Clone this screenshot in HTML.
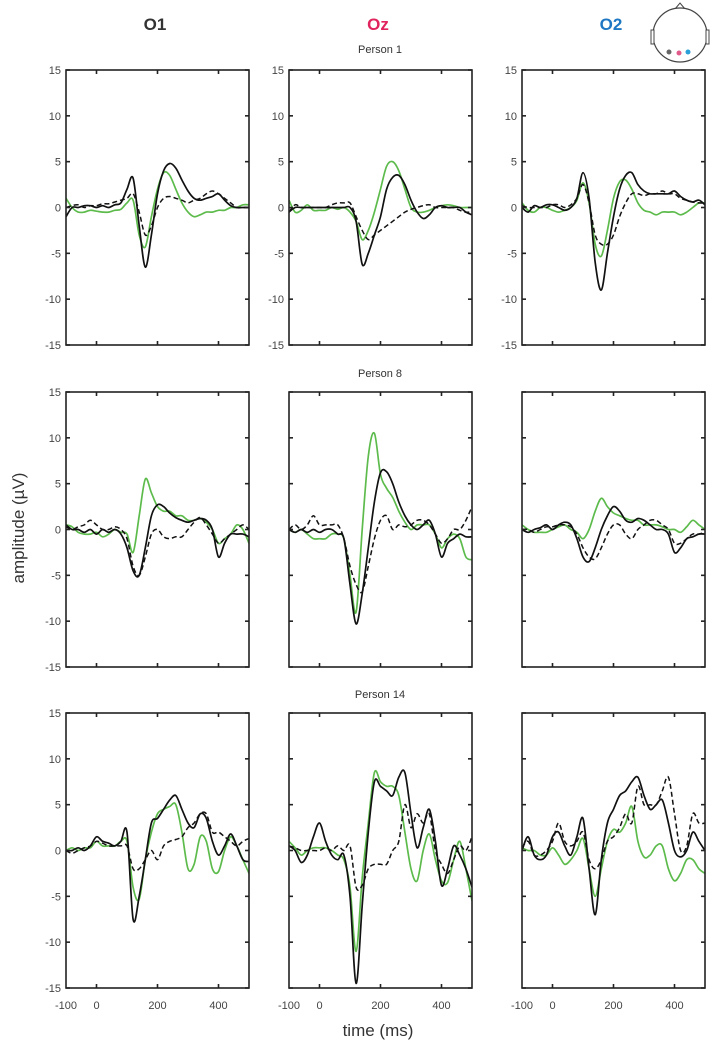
<!DOCTYPE html>
<html><head><meta charset="utf-8"><style>
body{margin:0;background:#fff;}
svg{display:block;font-family:"Liberation Sans",sans-serif;}
</style></head><body>
<svg id="chart" width="712" height="1050" viewBox="0 0 712 1050">
<text x="155" y="30" text-anchor="middle" font-size="17" font-weight="bold" fill="#333">O1</text>
<text x="378" y="30" text-anchor="middle" font-size="17" font-weight="bold" fill="#e0245e">Oz</text>
<text x="611" y="30" text-anchor="middle" font-size="17" font-weight="bold" fill="#1f77c4">O2</text>
<g>
<path d="M675 9 L680 3 L685 9" fill="none" stroke="#444" stroke-width="1"/>
<ellipse cx="680" cy="35" rx="27" ry="27" fill="#fff" stroke="#444" stroke-width="1.2"/>
<rect x="651" y="30" width="3" height="14" fill="#fff" stroke="#444" stroke-width="1"/>
<rect x="706" y="30" width="3" height="14" fill="#fff" stroke="#444" stroke-width="1"/>
<circle cx="669" cy="52" r="2.5" fill="#666"/>
<circle cx="679" cy="53" r="2.5" fill="#e05a8a"/>
<circle cx="688" cy="52" r="2.5" fill="#2a9fd8"/>
</g>
<text x="380" y="53" text-anchor="middle" font-size="11" fill="#333">Person 1</text>
<text x="380" y="377" text-anchor="middle" font-size="11" fill="#333">Person 8</text>
<text x="380" y="698" text-anchor="middle" font-size="11" fill="#333">Person 14</text>
<text x="0" y="0" transform="translate(24,528) rotate(-90)" text-anchor="middle" font-size="17" fill="#333">amplitude (µV)</text>
<text x="378" y="1036" text-anchor="middle" font-size="17" fill="#333">time (ms)</text>
<g id="panels"></g>
</svg>
<script>
const times=[-100,-80,-60,-40,-20,0,20,40,60,80,100,120,140,160,180,200,220,240,260,280,300,320,340,360,380,400,420,440,460,480,500];
const yTicks=[15,10,5,0,-5,-10,-15];
const xTicks=[-100,0,200,400];
const xTickMarks=[0,200,400];
// Person 1
const p1o1Black=[-1,0,0,0.2,0.2,0,0.2,0,0.3,0.5,2,3.2,-2,-6.5,-3,1.5,4,4.8,4.3,3,1.8,1,0.8,1,1.2,1.5,0.8,0.2,0,0,0];
const p1o1Green=[1,0,-0.5,-0.5,-0.3,-0.4,-0.5,-0.5,-0.3,-0.2,0.5,0.8,-3,-4.3,-1,2,3.8,3.5,2,0.5,-0.5,-1,-0.8,-0.5,-0.5,-0.3,-0.3,0,0,0.3,0.3];
const p1o1Dash=[0,0.2,0.3,0,0.2,0.2,0.4,0.4,0.6,0.8,1,1.5,-0.5,-3,-2,0,1,1.2,1,0.8,0.5,0.8,1,1.5,1.8,1.5,1,0.5,0,0,0];
const p1ozBlack=[-0.5,0,0,0,0,0,0,0,0,0,0,-1.5,-6.2,-5,-3,-1,2,3.3,3.5,2.5,0.8,-0.5,-1.2,-0.8,0,0.2,0,0,0,-0.5,-0.8];
const p1ozGreen=[0.8,-0.5,-0.3,0.3,-0.3,-0.3,-0.3,0,-0.2,0,-0.5,-1.5,-3.5,-2.5,-0.5,2,4.5,5,4,2,0,-0.5,-0.5,-0.3,0,0.2,0.3,0.2,0,0,0];
const p1ozDash=[-0.5,0.3,0,0,0,0,0,0.3,0.5,0.5,0.5,-1,-2.5,-3.5,-3,-2.5,-2,-1.5,-1,-0.5,-0.2,0,0.2,0.3,0,0,0,0,-0.3,-0.5,-0.5];
const p1o2Black=[0,-0.5,0.2,0,0.3,0.3,0,-0.3,0,1,3.8,1,-6,-9,-5,-1,2,3.5,3.8,2.5,1.8,1.5,1.5,1.5,1.5,1.8,1.2,0.8,0.6,0.8,0.3];
const p1o2Green=[0.5,-0.3,-0.5,0,0,-0.3,-0.5,-0.3,0,0.8,2.7,0.5,-4,-5.3,-2.5,1,2.8,3,2,0.5,-0.3,-0.5,-0.8,-0.5,-0.5,-0.5,-0.8,-0.5,0,0.5,0.5];
const p1o2Dash=[0.2,0,0,0,0,0.3,0.3,0,0.3,1,2.5,0.5,-3,-4,-4,-3,-1,0.5,1.5,1.5,1.3,1.5,1.5,1.8,1.5,1.5,1,0.8,0.6,0.5,0.5];
// Person 8
const p8o1Black=[0.5,0,0,-0.3,0,-0.5,0,-0.3,0,-0.5,-2,-4.5,-5,-2,1.5,2.7,2.5,1.8,1.3,1,0.8,1,1.2,1,0,-3,-1.5,-0.5,-0.5,-0.5,-0.8];
const p8o1Green=[0.5,0.3,-0.3,-0.5,-0.5,-0.3,-0.8,-0.5,0,-0.3,-0.5,-2.5,1.5,5.5,4,2.5,2,2,1.5,1.5,1,1,1.2,0.8,0,-1.5,-1,-0.5,0.5,0,-1.5];
const p8o1Dash=[0.3,0,0.3,0.5,1,0.5,0,0,0.3,0,-1,-4,-5,-3,-0.5,0,-0.8,-1,-0.8,-0.8,0,0.8,1.3,0.5,-0.5,-1.5,-1,-0.5,0,0.5,0];
const p8ozBlack=[0,-0.3,0,-0.3,0,-0.3,0,0,-0.5,-1,-6,-10.3,-7,-2,3,6.2,6.3,5,3,1.5,0.5,0,0.5,1,-0.5,-3,-1.5,-1,-0.5,-0.8,-0.8];
const p8ozGreen=[0,-0.3,0,-0.5,-1,-1,-1,-0.5,-0.5,-1,-5,-9,0,8,10.5,6,4.5,3.5,2,0.8,0,0.5,0.5,0.5,-0.5,-2,-1,-0.5,-1,-3,-3.3];
const p8ozDash=[0,0.5,0,0.5,1.5,0.5,0.5,0.5,0.5,-1,-4,-6,-6.8,-4,-1,1,1.5,0,0.5,0.3,0.5,1,1,0.5,-0.5,-1.5,-1,0,0,1,2.5];
const p8o2Black=[0,-0.3,0,0.2,0.5,0,0.5,0.8,0.5,-1,-3,-3.5,-2,0,1.5,2.5,2,1,0.8,1.2,1,0.5,0,0,-0.5,-2.5,-2,-1,-0.8,-0.5,-0.5];
const p8o2Green=[0.5,0,-0.3,-0.3,-0.3,0,0.3,0.5,0,-0.3,-1,0,2,3.4,2.5,1.8,1.5,1.2,1,1,0.5,0.5,0.5,0.3,0,0,-0.3,0.3,1,0.5,0];
const p8o2Dash=[0,0,-0.3,0,0.3,0.3,0.5,0.5,0.3,-0.5,-2,-3,-3.2,-2,-0.5,0.5,0.5,-0.5,-1,0,0.5,1,1,0.5,0,-1.5,-1.5,-1,-0.5,-0.5,-0.3];
// Person 14
const p14o1Black=[0,0,0.3,0,0.5,1.5,1,0.8,0.5,1,2,-7.5,-5,-1,3,3.5,4.5,5.5,6,4.5,3,2.5,4,3.5,1,-0.5,0.5,1.8,0.5,-1,-1.2];
const p14o1Green=[0,0.3,0,0.3,0.3,1,0.5,0.5,0.5,1,1,-4,-5.3,-1,2,4,4.5,4.8,5,2,-2,-1.5,1.5,1,-2,-2.3,0,1.5,0.5,-1,-2.5];
const p14o1Dash=[0,-0.3,0,0.3,0.5,1,0.8,0.5,0.5,0.5,0.5,-2,-2,-1,0,-1,0.5,1,1.2,1.5,2.5,3,4,4,2,2,1.5,1,0.5,1,1.3];
const p14ozBlack=[0.5,0,-1.3,-0.5,1.5,3,1,-0.5,-1,-0.5,-5,-14.5,-6,2,7.5,7,6.5,6,8,8.5,4,0.3,2.5,4.5,1,-3.8,-2,0.5,-0.5,-2,-4];
const p14ozGreen=[1,0.3,-0.5,0,0.3,0.3,0.3,0,-0.5,-1,-4,-11,-3,3,8.5,7.5,7,7,6,2,-2,-3.3,0,1.8,-1,-3.3,-3.5,-1,1,-2,-5.5];
const p14ozDash=[0.5,0.3,0,0,0,0,0.3,0,0.5,0,0.5,-4,-3.8,-2,-1.5,-1.5,-1.5,0,1,5,2.5,4,3,4,0,-1.5,-2.5,-1,0.5,0,1.5];
const p14o2Black=[0,1.5,-0.5,-1,-0.5,1.5,2,0.5,-0.5,1.5,3.5,-2,-7,-1,3,4.5,6,6.5,7.5,8,6,4.5,5,5.5,3,0,-0.7,0,2,1,0];
const p14o2Green=[0.3,0,0,-0.5,-0.5,0.3,-0.5,-1.5,-1,0,1.3,-2,-5,-2,1,2.3,2,3,4.8,1,-0.7,-0.5,0.5,0.5,-2,-3.3,-2.5,-1,-1,-2,-2.5];
const p14o2Dash=[0.3,1,-0.5,-0.5,0,1,3,1,0.5,1,2,-1,-2,-1,1,1.5,2.5,4,3,7,5,5,5,6.5,8,4,0,0.5,4,3,3];

const colLeft=[66,289,522], colWidth=183;
const rowTop=[70,392,713], rowHeight=275;
const panels=[
 [[p1o1Green,p1o1Black,p1o1Dash],[p1ozGreen,p1ozBlack,p1ozDash],[p1o2Green,p1o2Black,p1o2Dash]],
 [[p8o1Green,p8o1Black,p8o1Dash],[p8ozGreen,p8ozBlack,p8ozDash],[p8o2Green,p8o2Black,p8o2Dash]],
 [[p14o1Green,p14o1Black,p14o1Dash],[p14ozGreen,p14ozBlack,p14ozDash],[p14o2Green,p14o2Black,p14o2Dash]]
];
const NS="http://www.w3.org/2000/svg";
const root=document.getElementById('panels');
function mk(tag,attrs,parent){const e=document.createElementNS(NS,tag);for(const k in attrs)e.setAttribute(k,attrs[k]);parent.appendChild(e);return e;}
function smooth(pts){let d='M'+pts[0][0].toFixed(1)+' '+pts[0][1].toFixed(1);for(let i=0;i<pts.length-1;i++){const p0=pts[i-1]||pts[i],p1=pts[i],p2=pts[i+1],p3=pts[i+2]||p2;const c1x=p1[0]+(p2[0]-p0[0])/6,c1y=p1[1]+(p2[1]-p0[1])/6,c2x=p2[0]-(p3[0]-p1[0])/6,c2y=p2[1]-(p3[1]-p1[1])/6;d+=' C'+c1x.toFixed(1)+' '+c1y.toFixed(1)+' '+c2x.toFixed(1)+' '+c2y.toFixed(1)+' '+p2[0].toFixed(1)+' '+p2[1].toFixed(1);}return d;}
const styles=[{c:'#5dbb4c',w:1.7,dash:null,n:'green'},{c:'#111',w:1.7,dash:null,n:'black-solid'},{c:'#111',w:1.5,dash:'5,3',n:'black-dashed'}];
for(let r=0;r<3;r++)for(let c=0;c<3;c++){
 const L=colLeft[c],T=rowTop[r],W=colWidth,H=rowHeight;
 const xs=t=>L+(t+100)/600*W, ys=v=>T+(15-v)/30*H;
 const g=mk('g',{},root);
 
 
 const clip=mk('clipPath',{id:'cl'+r+c},g);mk('rect',{x:L,y:T,width:W,height:H},clip);
 const lg=mk('g',{'clip-path':'url(#cl'+r+c+')'},g);
 panels[r][c].forEach((arr,si)=>{
  const s=styles[si];
  const p=mk('path',{d:smooth(arr.map((v,i)=>[xs(times[i]),ys(v)])),fill:'none',stroke:s.c,'stroke-width':s.w,'stroke-linejoin':'round'},lg);
  if(s.dash)p.setAttribute('stroke-dasharray',s.dash);
  
  
 });
 const box=mk('rect',{x:L,y:T,width:W,height:H,fill:'none',stroke:'#222','stroke-width':1.6},g);
 
 
 yTicks.forEach(v=>{
  mk('line',{x1:L,x2:L+4,y1:ys(v),y2:ys(v),stroke:'#222','stroke-width':1.6},g);
  mk('line',{x1:L+W-4,x2:L+W,y1:ys(v),y2:ys(v),stroke:'#222','stroke-width':1.6},g);
  if(c===0||r===0){const t=mk('text',{x:L-5,y:ys(v)+4,'text-anchor':'end','font-size':11,fill:'#444'},g);t.textContent=v;
   
   }
 });
 xTickMarks.forEach(v=>{
  mk('line',{x1:xs(v),x2:xs(v),y1:T,y2:T+4,stroke:'#222','stroke-width':1.6},g);
  mk('line',{x1:xs(v),x2:xs(v),y1:T+H-4,y2:T+H,stroke:'#222','stroke-width':1.6},g);
 });
 if(r===2)xTicks.forEach(v=>{const t=mk('text',{x:xs(v),y:T+H+21,'text-anchor':'middle','font-size':11,fill:'#444'},g);t.textContent=v;
  
  });
}
</script>
</body></html>
